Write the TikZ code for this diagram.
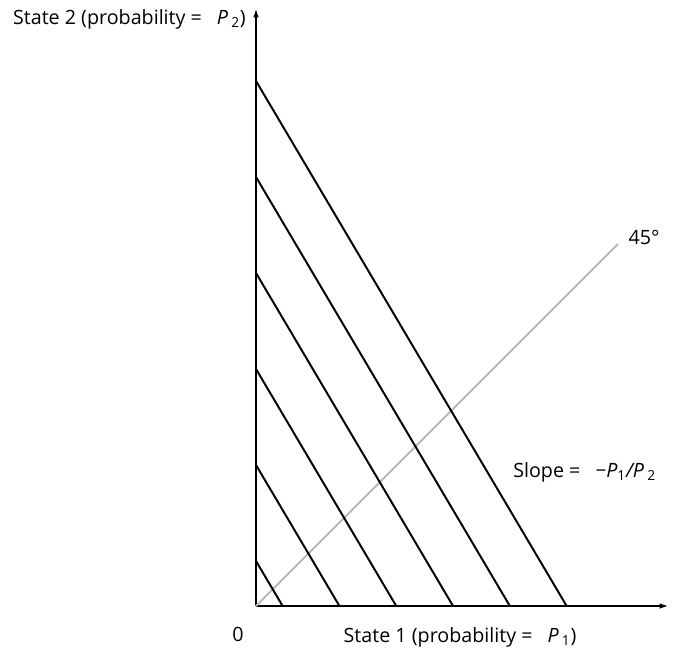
\documentclass[tikz,border=0pt]{standalone}
\usepackage{fontspec}
\setmainfont{Open Sans}
\usetikzlibrary{arrows.meta}

\begin{document}
\begin{tikzpicture}[x=0.025cm, y=0.025cm, >={Latex[length=6pt,width=4pt]},
  axis/.style={line width=0.8pt},
  budget/.style={line width=1.4pt},
  lbl/.style={font=\fontsize{14}{16}\selectfont, inner sep=0pt}]
\useasboundingbox (-256,-46) rectangle (418,606);
\coordinate (O) at (0,0);
\coordinate (xend) at (412,0);
\coordinate (yend) at (0,597);
\coordinate (diag) at (362,362);
% axes
\draw[axis,->] (O) -- (xend);
\draw[axis,->] (O) -- (yend);
% certainty line
\draw[line width=1.3pt, black!28] (O) -- (diag);
% budget lines, slope -P1/P2
\foreach \k in {0,...,5}{
  \pgfmathsetmacro{\h}{45+96*\k}
  \draw[budget] (0,\h) -- ({\h/1.69},0);
}
\node[lbl] (zero) at (-18,-28) {0};
\node[lbl] (xlab) at (204,-31) {State 1 (probability = \enspace\textit{P}\,\textsubscript{1})};
\node[lbl, anchor=east] (ylab) at (-10,587) {State 2 (probability = \enspace\textit{P}\,\textsubscript{2})};
\node[lbl] (deg) at (388,369) {45°};
\node[lbl, anchor=west] (slope) at (257,134) {Slope = \enspace\textit{−P}\textsubscript{1}\textit{/P}\,\textsubscript{2}};
\end{tikzpicture}
\end{document}
